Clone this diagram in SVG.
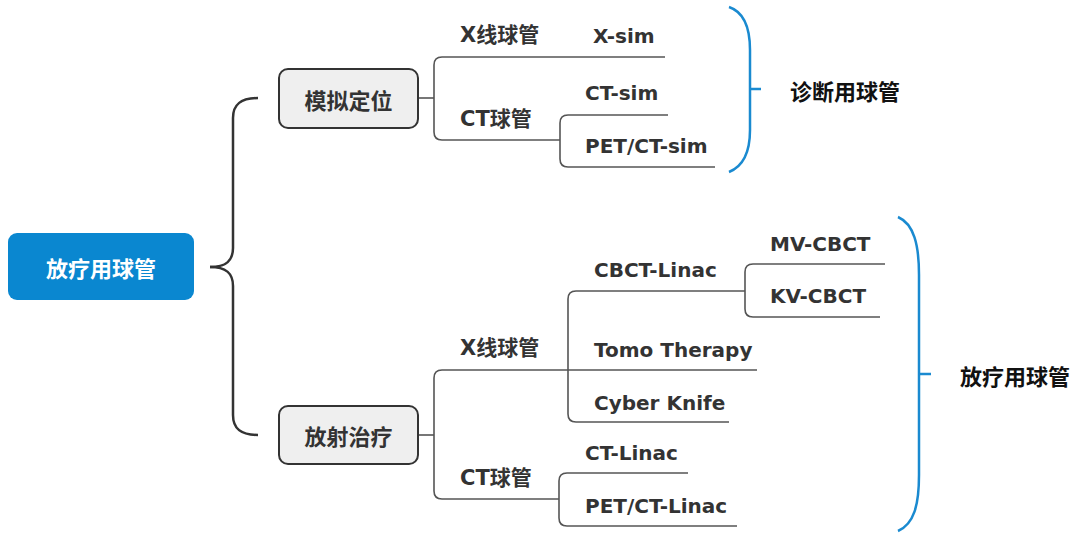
<svg xmlns="http://www.w3.org/2000/svg" width="1080" height="542" viewBox="0 0 1080 542">
<style>
text{font-family:"DejaVu Sans","Noto Sans CJK SC",sans-serif;font-weight:bold;dominant-baseline:central}
.lat{font-size:20px;fill:#333}
.cjk{font-family:"Noto Sans CJK SC",sans-serif;font-size:22px;fill:#333}
.mix{font-size:21px;fill:#333}
.blk{font-family:"Noto Sans CJK SC",sans-serif;font-size:22px;fill:#111}
.conn{fill:none;stroke:#555;stroke-width:1.6}
.brace{fill:none;stroke:#333;stroke-width:2.5}
.blue{fill:none;stroke:#1a8ad0;stroke-width:2.5}
.sub{fill:#efefef;stroke:#333;stroke-width:2}
</style>
<rect width="1080" height="542" fill="#fff"/>
<g id="connectors">
<path class="brace" d="M210,267 C226,267 233,261 233,248 V118 C233,104 241,98 258,98"/>
<path class="brace" d="M210,267 C226,267 233,273 233,286 V415 C233,429 241,435 258,435"/>
<path class="conn" d="M418,98 H434"/>
<path class="conn" d="M665,57 H442 Q434,57 434,65 V132 Q434,140 442,140 H560"/>
<path class="conn" d="M668,115 H568 Q560,115 560,123 V159 Q560,167 568,167 H715"/>
<path class="conn" d="M418,435 H434"/>
<path class="conn" d="M757,370 H442 Q434,370 434,378 V491 Q434,499 442,499 H559"/>
<path class="conn" d="M745,291 H576 Q568,291 568,299 V414 Q568,422 576,422 H729"/>
<path class="conn" d="M885,264 H753 Q745,264 745,272 V309 Q745,317 753,317 H880"/>
<path class="conn" d="M688,473 H567 Q559,473 559,481 V518 Q559,526 567,526 H737"/>
<path class="blue" d="M729,7 C744,12 750,28 750,50 V130 C750,152 744,166 729,172"/>
<path class="blue" d="M750,89 H761"/>
<path class="blue" d="M898,217 C914,224 919,245 919,275 V475 C919,505 914,524 898,531"/>
<path class="blue" d="M919,374 H931"/>
</g>
<g id="root">
<rect x="8" y="233" width="186" height="67" rx="9" fill="#0a87d0"/>
<text x="101" y="267" text-anchor="middle" class="cjk" style="fill:#fff">放疗用球管</text>
</g>
<g id="n-sim">
<rect class="sub" x="279" y="69" width="139" height="59" rx="9"/>
<text x="348.5" y="99" text-anchor="middle" class="cjk">模拟定位</text>
</g>
<g id="n-rt">
<rect class="sub" x="279" y="406" width="139" height="58" rx="9"/>
<text x="348.5" y="435" text-anchor="middle" class="cjk">放射治疗</text>
</g>
<g id="sim-x"><text x="460" y="35" class="mix">X线球管</text></g>
<g id="sim-xsim"><text x="593" y="36" class="lat">X-sim</text></g>
<g id="sim-ct"><text x="460" y="119" class="mix">CT球管</text></g>
<g id="sim-ctsim"><text x="585" y="93" class="lat">CT-sim</text></g>
<g id="sim-petct"><text x="585" y="146" class="lat">PET/CT-sim</text></g>
<g id="lbl-diag"><text x="790" y="90" class="blk">诊断用球管</text></g>
<g id="rt-x"><text x="460" y="348" class="mix">X线球管</text></g>
<g id="rt-cbct"><text x="594" y="270" class="lat">CBCT-Linac</text></g>
<g id="rt-mv"><text x="770" y="244" class="lat">MV-CBCT</text></g>
<g id="rt-kv"><text x="770" y="296" class="lat">KV-CBCT</text></g>
<g id="rt-tomo"><text x="594" y="350" class="lat">Tomo Therapy</text></g>
<g id="rt-cyber"><text x="594" y="403" class="lat">Cyber Knife</text></g>
<g id="rt-ct"><text x="460" y="478" class="mix">CT球管</text></g>
<g id="rt-ctlinac"><text x="585" y="453" class="lat">CT-Linac</text></g>
<g id="rt-petlinac"><text x="585" y="506" class="lat">PET/CT-Linac</text></g>
<g id="lbl-rt"><text x="960" y="375" class="blk">放疗用球管</text></g>
</svg>
